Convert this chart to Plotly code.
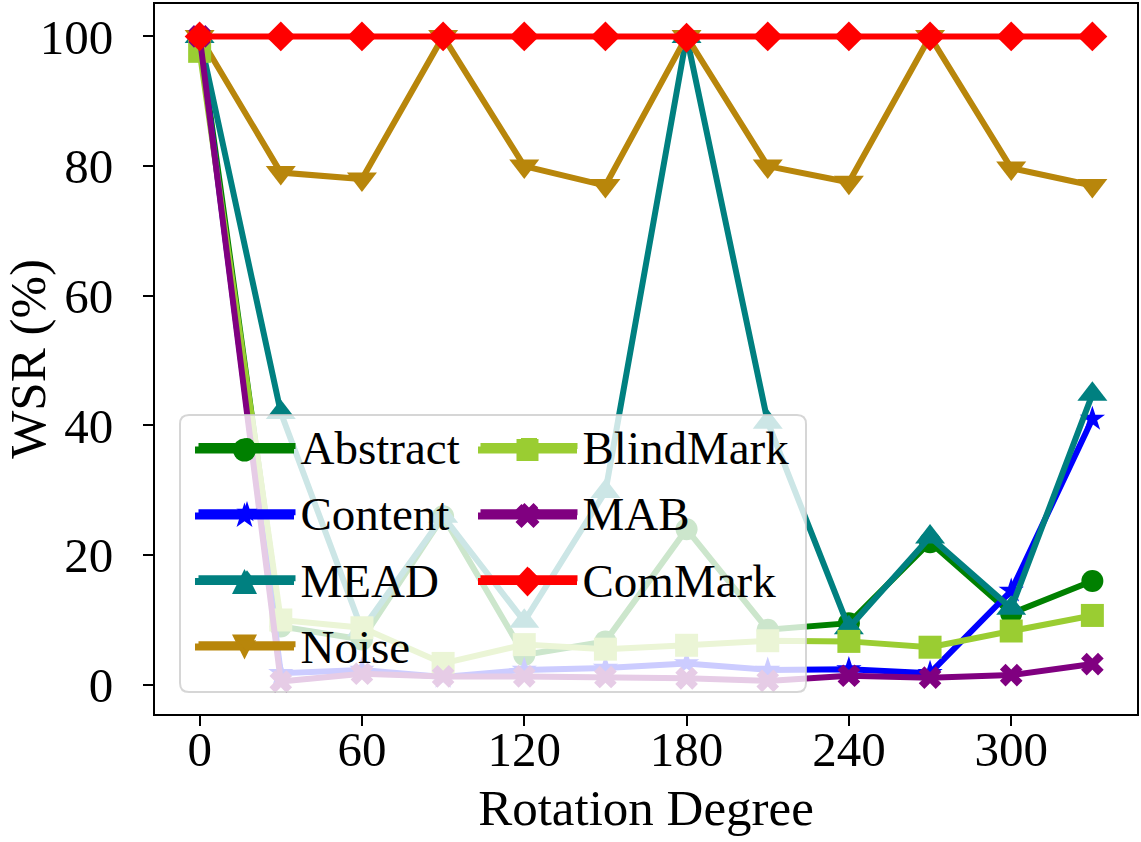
import math
import plotly.graph_objects as go

degrees = [0, 30, 60, 90, 120, 150, 180, 210, 240, 270, 300, 330]
abstract = [100, 9, 7, 26, 4.6, 6.7, 24, 8.5, 9.5, 22, 11, 16]
content = [100, 1.8, 2.3, 1.2, 2.3, 2.6, 3.3, 2.3, 2.4, 1.8, 14.5, 41]
mead = [100, 42, 8.5, 26, 9.8, 29.8, 100, 40.5, 8.8, 22.8, 11.8, 44.8]
noise = [100, 79, 78, 100, 80, 77, 100, 80, 77.5, 100, 79.7, 77]
blindmark = [97.7, 10, 8.8, 3.3, 6.2, 5.5, 6.1, 6.8, 6.7, 5.8, 8.3, 10.7]
mab = [100, 0.5, 1.7, 1.3, 1.3, 1.2, 1.0, 0.6, 1.4, 1.1, 1.5, 3.2]
commark = [100, 100, 100, 100, 100, 100, 99.8, 100, 100, 100, 100, 100]

x_ticks = [0, 60, 120, 180, 240, 300]
y_ticks = [0, 20, 40, 60, 80, 100]

# name, values, colour, plotly symbol, size, legend, legend column, legend row, glyph
series = [
    ("Abstract", abstract, "#008000", "circle", 22, "legend", 0, 0, "circle"),
    ("Content", content, "#0000ff", "star", 19, "legend", 0, 1, "star"),
    ("MEAD", mead, "#008080", "triangle-up", 26, "legend", 0, 2, "tri_up"),
    ("Noise", noise, "#b8860b", "triangle-down", 26, "legend", 0, 3, "tri_down"),
    ("BlindMark", blindmark, "#9acd32", "square", 23, "legend2", 1, 0, "square"),
    ("MAB", mab, "#800080", "x", 20, "legend2", 1, 1, "xfill"),
    ("ComMark", commark, "#ff0000", "diamond", 23, "legend2", 1, 2, "diamond"),
]

FONT = "Liberation Serif, Times New Roman, serif"
W_FIG, H_FIG = 1141, 842
L, R, T, B = 155, 1137, 4, 714
W, H = R - L, B - T


def px_x(p):
    return (p - L) / W


def px_y(p):
    return (B - p) / H


fig = go.Figure()
for name, vals, color, sym, size, leg, col, row, glyph in series:
    fig.add_trace(go.Scatter(
        x=degrees, y=vals, name=name, mode="lines+markers",
        line=dict(color=color, width=6),
        marker=dict(symbol=sym, size=size, color=color, line=dict(width=0)),
        legend=leg, legendgroup=name,
    ))

# ---- legend frame (rounded, semi-transparent) ----
bx0, bx1, by0, by1 = px_x(180), px_x(806), px_y(692), px_y(415)
rx, ry = 9 / W, 9 / H
path = (f"M {bx0+rx},{by0} L {bx1-rx},{by0} Q {bx1},{by0} {bx1},{by0+ry} "
        f"L {bx1},{by1-ry} Q {bx1},{by1} {bx1-rx},{by1} L {bx0+rx},{by1} "
        f"Q {bx0},{by1} {bx0},{by1-ry} L {bx0},{by0+ry} Q {bx0},{by0} {bx0+rx},{by0} Z")
fig.add_shape(type="path", path=path, xref="paper", yref="paper", layer="above",
              fillcolor="rgba(255,255,255,0.8)", line=dict(color="rgba(204,204,204,0.8)", width=2))

# ---- enlarged legend glyphs (drawn under the plotly legend symbols) ----
ROW_Y = [450, 516, 581.5, 647]
COL_X = [195, 478]
HANDLE = 99


def poly(cx, cy, pts):
    return "M " + " L ".join(f"{px_x(cx+dx)},{px_y(cy+dy)}" for dx, dy in pts) + " Z"


def glyph_points(kind):
    if kind == "star":
        Ro, Ri = 13.5, 13.5 * 0.382
        return [((Ro if k % 2 == 0 else Ri) * math.cos(math.radians(-90 + 36 * k)),
                 (Ro if k % 2 == 0 else Ri) * math.sin(math.radians(-90 + 36 * k))) for k in range(10)]
    if kind == "tri_up":
        return [(0, -12.5), (12.5, 12.5), (-12.5, 12.5)]
    if kind == "tri_down":
        return [(0, 12.5), (12.5, -12.5), (-12.5, -12.5)]
    if kind == "square":
        return [(-11, -11), (11, -11), (11, 11), (-11, 11)]
    if kind == "diamond":
        return [(0, -15), (14, 0), (0, 15), (-14, 0)]
    if kind == "xfill":
        s = 24
        base = [(0.25, 0), (0.5, 0.25), (0.75, 0), (1, 0.25), (0.75, 0.5), (1, 0.75),
                (0.75, 1), (0.5, 0.75), (0.25, 1), (0, 0.75), (0.25, 0.5), (0, 0.25)]
        return [((u - 0.5) * s, (v - 0.5) * s) for u, v in base]
    return None


for name, vals, color, sym, size, leg, col, row, glyph in series:
    x0 = COL_X[col]
    cy = ROW_Y[row]
    cx = x0 + HANDLE / 2
    fig.add_shape(type="line", xref="paper", yref="paper", layer="above",
                  x0=px_x(x0), x1=px_x(x0 + HANDLE), y0=px_y(cy), y1=px_y(cy),
                  line=dict(color=color, width=7))
    if glyph == "circle":
        fig.add_shape(type="circle", xref="paper", yref="paper", layer="above",
                      x0=px_x(cx - 11.5), x1=px_x(cx + 11.5), y0=px_y(cy + 11.5), y1=px_y(cy - 11.5),
                      fillcolor=color, line=dict(width=0))
    else:
        fig.add_shape(type="path", xref="paper", yref="paper", layer="above",
                      path=poly(cx, cy, glyph_points(glyph)), fillcolor=color, line=dict(width=0))

legend_common = dict(
    bgcolor="rgba(0,0,0,0)", borderwidth=0, font=dict(family=FONT, size=47, color="black"),
    itemwidth=97, tracegroupgap=2, xanchor="left", yanchor="top", orientation="v",
)

axis_common = dict(
    showgrid=False, zeroline=False, showline=True, linecolor="black", linewidth=2,
    mirror=True, ticks="outside", ticklen=10, tickwidth=1.5, tickcolor="black",
    tickfont=dict(family=FONT, size=49), automargin=False,
)

fig.update_layout(
    width=W_FIG, height=H_FIG,
    margin=dict(l=L, r=W_FIG - R, t=T, b=H_FIG - B),
    paper_bgcolor="white", plot_bgcolor="white",
    font=dict(family=FONT, size=49, color="black"),
    showlegend=True,
    legend=dict(x=px_x(193.5), y=px_y(409), **legend_common),
    legend2=dict(x=px_x(475.5), y=px_y(409), **legend_common),
    xaxis=dict(
        range=[-16.5, 346.5], tickvals=x_ticks, ticktext=[str(v) for v in x_ticks],
        ticklabelstandoff=-19,
        title=dict(text="Rotation Degree", font=dict(family=FONT, size=51), standoff=14),
        **axis_common,
    ),
    yaxis=dict(
        range=[-4.5, 105], tickvals=y_ticks, ticktext=[str(v) for v in y_ticks],
        ticklabelstandoff=20,
        title=dict(text="WSR (%)", font=dict(family=FONT, size=51), standoff=20),
        **axis_common,
    ),
)

fig.write_html("out.html", config={"displayModeBar": False},
               post_script="document.body.style.margin='0px';")
